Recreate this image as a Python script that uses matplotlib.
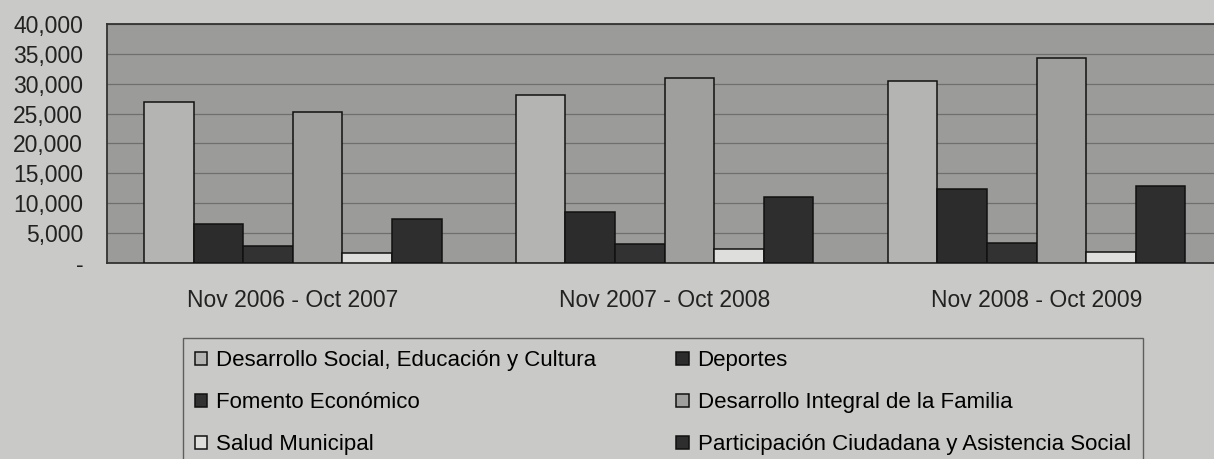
import numpy as np
import matplotlib.pyplot as plt

plt.rcParams['font.family'] = ['Liberation Sans', 'DejaVu Sans']

# periodos y series
periodos = ['Nov 2006 - Oct 2007', 'Nov 2007 - Oct 2008', 'Nov 2008 - Oct 2009']
series = ['Desarrollo Social, Educación y Cultura', 'Deportes', 'Fomento Económico',
          'Desarrollo Integral de la Familia', 'Salud Municipal',
          'Participación Ciudadana y Asistencia Social']
desarrollo_social = [26900, 28100, 30400]
deportes = [6500, 8500, 12300]
fomento = [2850, 3100, 3300]
dif = [25300, 30900, 34300]
salud = [1600, 2300, 1900]
participacion = [7300, 11000, 12800]
valores = [desarrollo_social, deportes, fomento, dif, salud, participacion]
colores = ['#b4b4b2', '#2c2c2c', '#323232', '#9f9f9d', '#dededc', '#2e2e2e']

yticks = [0, 5000, 10000, 15000, 20000, 25000, 30000, 35000, 40000]
ytick_labels = ['-', '5,000', '10,000', '15,000', '20,000', '25,000', '30,000', '35,000', '40,000']

fig = plt.figure(figsize=(12.14, 4.59), dpi=100, facecolor='#c9c9c7')
ax = fig.add_axes([0.088, 0.427, 0.919, 0.521])
ax.set_facecolor('#9b9b99')

x = np.arange(len(periodos))
n = len(series)
w = 0.8 / n
barras = []
for i, (nombre, vals, c) in enumerate(zip(series, valores, colores)):
    b = ax.bar(x - 0.4 + w * (i + 0.5), vals, w, color=c, edgecolor='#111111',
               linewidth=1.1, label=nombre, zorder=3)
    barras.append(b)

ax.set_xlim(-0.5, 2.5)
ax.set_ylim(0, 40000)
ax.set_yticks(yticks)
ax.set_yticklabels(ytick_labels)
ax.set_xticks(x)
ax.set_xticklabels(periodos)
ax.tick_params(axis='y', length=0, pad=17, labelsize=16.5, colors='#222222')
ax.tick_params(axis='x', length=0, pad=19, labelsize=16.5, colors='#222222')
ax.grid(axis='y', color='#6f6f6d', linewidth=0.9, zorder=1)
for s in ax.spines.values():
    s.set_color('#333333')
    s.set_linewidth(1.3)

# leyenda en orden por filas (como Excel)
orden = [0, 2, 4, 1, 3, 5]
leg = fig.legend([barras[i] for i in orden], [series[i] for i in orden],
                 loc='upper left', bbox_to_anchor=(0.1507, 0.2636), borderaxespad=0,
                 ncol=2, fontsize=16, frameon=True, fancybox=False, edgecolor='#444444',
                 facecolor='#c9c9c7', handlelength=0.55, handleheight=0.55,
                 handletextpad=0.4, labelspacing=0.95, columnspacing=3.6,
                 borderpad=0.55)
leg.get_frame().set_linewidth(1.0)

fig.savefig('out.png', dpi=100, facecolor=fig.get_facecolor())
